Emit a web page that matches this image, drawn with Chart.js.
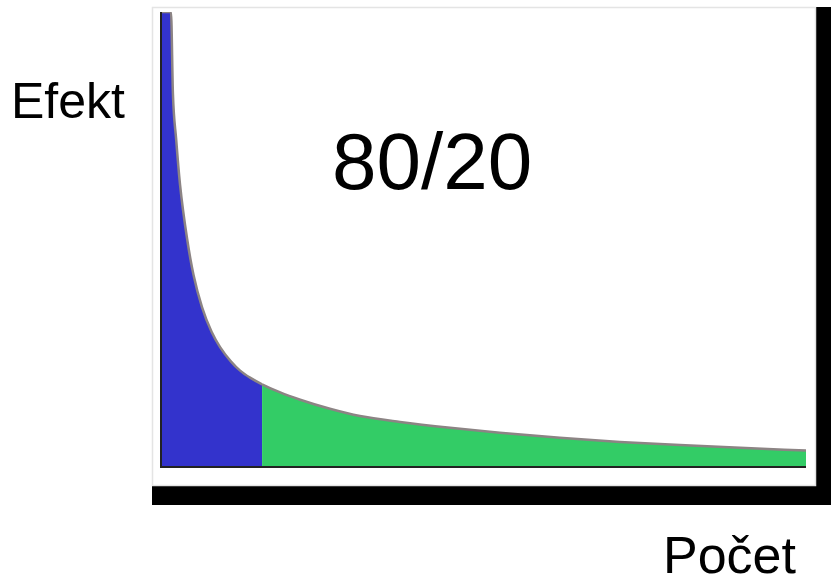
<!DOCTYPE html>
<html>
<head>
<meta charset="utf-8">
<script src="https://cdn.jsdelivr.net/npm/chart.js@4"></script>
<style>
    body { margin: 0; background: #fff; }
    #wrap { position: relative; width: 831px; height: 576px; }
    .lbl { position: absolute; font-family: 'Liberation Sans', Arial, sans-serif; color: #000; line-height: 1; white-space: nowrap; }
</style>
</head>
<body>
<div id="wrap">
    <canvas id="paretoChart" width="831" height="576"></canvas>
    <div class="lbl" style="left:11px; top:76px; font-size:50px;">Efekt</div>
    <div class="lbl" style="left:332px; top:122px; font-size:80px;">80/20</div>
    <div class="lbl" style="left:663px; top:529px; font-size:52px;">Počet</div>
</div>
<script>
// pocet (x, 0-100) a efekt (y, 0-100)
const pocet = [0, 1.7, 2.0, 2.5, 3.1, 4.2, 5.2, 6.5, 8.0, 9.3, 11.0, 12.4, 14.0, 15.8, 18.6, 21.7, 26.3, 30.95, 37.15, 44.9, 52.6, 61.9, 71.2, 80.5, 89.8, 100];
const efekt = [100, 100, 82, 72, 62, 50, 42, 35, 29.5, 26.2, 23, 21, 19.4, 18.0, 16.2, 14.6, 12.6, 11.0, 9.7, 8.4, 7.3, 6.2, 5.3, 4.6, 4.0, 3.4];
const hranice = 15.8; // 20 % - konec modre casti

const modra = '#3333cc';
const zelena = '#33cc66';

// ramecek, cerny stin a osy
const frame = {
    id: 'frame',
    beforeDraw(chart) {
        const { ctx, chartArea: a } = chart;
        ctx.save();
        ctx.fillStyle = '#000';
        ctx.fillRect(a.right + 10, a.top - 5, 15, a.bottom - a.top + 44);
        ctx.fillRect(a.left - 8, a.bottom + 20, a.right - a.left + 33, 19);
        ctx.strokeStyle = '#e4e4e4';
        ctx.lineWidth = 1.5;
        ctx.strokeRect(a.left - 7.5, a.top - 4.5, a.right - a.left + 17, a.bottom - a.top + 24);
        ctx.restore();
    },
    afterDatasetsDraw(chart) {
        const { ctx, chartArea: a } = chart;
        ctx.save();
        ctx.strokeStyle = '#222';
        ctx.lineWidth = 2;
        ctx.beginPath();
        ctx.moveTo(a.left + 1, a.top);
        ctx.lineTo(a.left + 1, a.bottom + 1);
        ctx.lineTo(a.right, a.bottom + 1);
        ctx.stroke();
        ctx.restore();
    }
};

const ctx = document.getElementById('paretoChart').getContext('2d');
new Chart(ctx, {
    type: 'line',
    data: {
        datasets: [{
            data: pocet.map((x, i) => ({ x: x, y: efekt[i] })),
            backgroundColor: zelena,
            borderColor: '#8c8484',
            borderWidth: 2.5,
            fill: 'origin',
            pointRadius: 0,
            cubicInterpolationMode: 'monotone',
            segment: {
                backgroundColor: c => c.p0.parsed.x < hranice ? modra : zelena
            }
        }]
    },
    options: {
        responsive: false,
        animation: false,
        layout: { padding: { left: 160, right: 25, top: 12, bottom: 110 } },
        plugins: {
            legend: { display: false },
            tooltip: { enabled: false }
        },
        scales: {
            x: { type: 'linear', min: 0, max: 100, display: false },
            y: { min: 0, max: 100, display: false }
        }
    },
    plugins: [frame]
});
</script>
</body>
</html>
